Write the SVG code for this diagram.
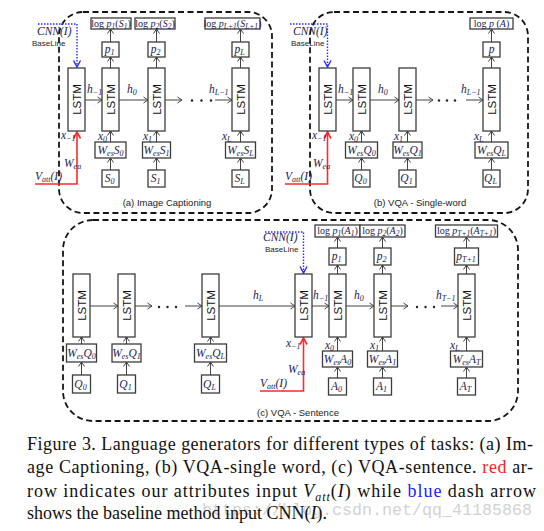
<svg xmlns="http://www.w3.org/2000/svg" width="544" height="531" viewBox="0 0 544 531">
<defs>
<style>
.bx{fill:#fff;stroke:#3c3c3c;stroke-width:1.3}
.fr{fill:none;stroke:#151515;stroke-width:1.8;stroke-dasharray:6 3.5}
.ls{font-family:"Liberation Sans",Arial,sans-serif;font-size:11.5px;fill:#111;text-anchor:middle;dominant-baseline:central}
.m{font-family:"Liberation Serif","Times New Roman",serif;font-style:italic;font-size:11.5px;fill:#1c1c50}
.c{text-anchor:middle}
.lg{font-size:10px}
.up{font-style:normal}
.sb{font-size:8px}
.lg .sb{font-size:7.5px}
.bl2{font-family:"Liberation Sans",Arial,sans-serif;font-size:8px;fill:#222}
.cap{font-family:"Liberation Sans",Arial,sans-serif;font-size:9.5px;fill:#222;text-anchor:middle}
.ar{fill:none;stroke:#444;stroke-width:1;marker-end:url(#ah)}
.blu{fill:none;stroke:#2a2aff;stroke-width:1.4;stroke-dasharray:1.5 1.5;marker-end:url(#ahb)}
.red{fill:none;stroke:#ff2a2a;stroke-width:1.6;marker-end:url(#ahr)}
.dot{fill:#222}
.txt{font-family:"Liberation Serif","Times New Roman",serif;font-size:18px;fill:#111}
.wm{font-family:"Liberation Mono","Courier New",monospace;font-size:16px;fill:#d2d2d2}
</style>
<marker id="ah" markerWidth="8" markerHeight="8" refX="6" refY="4" orient="auto" markerUnits="userSpaceOnUse"><path d="M1.5,1 L6,4 L1.5,7" fill="none" stroke="#444" stroke-width="1"/></marker>
<marker id="ahb" markerWidth="10" markerHeight="10" refX="8" refY="5" orient="auto" markerUnits="userSpaceOnUse"><path d="M1.5,1.5 L8,5 L1.5,8.5" fill="none" stroke="#2a2aff" stroke-width="1.4"/></marker>
<marker id="ahr" markerWidth="10" markerHeight="10" refX="8" refY="5" orient="auto" markerUnits="userSpaceOnUse"><path d="M1.5,1.5 L8,5 L1.5,8.5" fill="none" stroke="#ff2a2a" stroke-width="1.6"/></marker>
</defs>
<rect width="544" height="531" fill="#fff"/>

<!-- frames -->
<g id="frames">
<rect class="fr" x="59" y="12" width="213" height="201" rx="24"/>
<rect class="fr" x="310" y="12" width="218" height="201" rx="24"/>
<rect class="fr" x="63" y="220" width="455" height="201" rx="30"/>
</g>

<!-- connectors -->
<g id="connectors">
<!-- panel a -->
<line class="ar" x1="110.5" y1="170" x2="110.5" y2="158"/>
<line class="ar" x1="110.5" y1="142" x2="110.5" y2="131"/>
<line class="ar" x1="110.5" y1="68" x2="110.5" y2="57"/>
<line class="ar" x1="110.5" y1="42" x2="110.5" y2="29"/>
<line class="ar" x1="156.5" y1="170" x2="156.5" y2="158"/>
<line class="ar" x1="156.5" y1="142" x2="156.5" y2="131"/>
<line class="ar" x1="156.5" y1="68" x2="156.5" y2="57"/>
<line class="ar" x1="156.5" y1="42" x2="156.5" y2="29"/>
<line class="ar" x1="240.5" y1="170" x2="240.5" y2="158"/>
<line class="ar" x1="240.5" y1="142" x2="240.5" y2="131"/>
<line class="ar" x1="240.5" y1="68" x2="240.5" y2="57"/>
<line class="ar" x1="240.5" y1="42" x2="240.5" y2="29"/>
<line class="ar" x1="85" y1="100" x2="102" y2="100"/>
<line class="ar" x1="119" y1="100" x2="148" y2="100"/>
<line class="ar" x1="165" y1="100" x2="182" y2="100"/>
<line class="ar" x1="215" y1="100" x2="232" y2="100"/>
<circle class="dot" cx="192" cy="100.5" r="1.2"/>
<circle class="dot" cx="201.5" cy="100.5" r="1.2"/>
<circle class="dot" cx="211" cy="100.5" r="1.2"/>
<polyline class="blu" points="38,24 77,24 77,67"/>
<polyline class="red" points="35,184 77,184 77,132"/>
<!-- panel b -->
<line class="ar" x1="361.5" y1="170" x2="361.5" y2="158"/>
<line class="ar" x1="361.5" y1="142" x2="361.5" y2="131"/>
<line class="ar" x1="407.5" y1="170" x2="407.5" y2="158"/>
<line class="ar" x1="407.5" y1="142" x2="407.5" y2="131"/>
<line class="ar" x1="491.5" y1="170" x2="491.5" y2="158"/>
<line class="ar" x1="491.5" y1="142" x2="491.5" y2="131"/>
<line class="ar" x1="491.5" y1="68" x2="491.5" y2="57"/>
<line class="ar" x1="491.5" y1="42" x2="491.5" y2="29"/>
<line class="ar" x1="336" y1="100" x2="353" y2="100"/>
<line class="ar" x1="370" y1="100" x2="399" y2="100"/>
<line class="ar" x1="416" y1="100" x2="433" y2="100"/>
<line class="ar" x1="466" y1="100" x2="483" y2="100"/>
<circle class="dot" cx="439" cy="100.5" r="1.2"/>
<circle class="dot" cx="447" cy="100.5" r="1.2"/>
<circle class="dot" cx="455" cy="100.5" r="1.2"/>
<polyline class="blu" points="290,24 327.5,24 327.5,67"/>
<polyline class="red" points="285,184 327.5,184 327.5,132"/>
<!-- panel c -->
<line class="ar" x1="81.5" y1="375" x2="81.5" y2="362"/>
<line class="ar" x1="81.5" y1="344" x2="81.5" y2="337"/>
<line class="ar" x1="126.5" y1="375" x2="126.5" y2="362"/>
<line class="ar" x1="126.5" y1="344" x2="126.5" y2="337"/>
<line class="ar" x1="210.5" y1="375" x2="210.5" y2="362"/>
<line class="ar" x1="210.5" y1="344" x2="210.5" y2="337"/>
<line class="ar" x1="337.5" y1="378" x2="337.5" y2="367"/>
<line class="ar" x1="337.5" y1="351" x2="337.5" y2="337"/>
<line class="ar" x1="337.5" y1="274" x2="337.5" y2="265"/>
<line class="ar" x1="337.5" y1="248" x2="337.5" y2="237"/>
<line class="ar" x1="382.5" y1="378" x2="382.5" y2="367"/>
<line class="ar" x1="382.5" y1="351" x2="382.5" y2="337"/>
<line class="ar" x1="382.5" y1="274" x2="382.5" y2="265"/>
<line class="ar" x1="382.5" y1="248" x2="382.5" y2="237"/>
<line class="ar" x1="466.5" y1="378" x2="466.5" y2="367"/>
<line class="ar" x1="466.5" y1="351" x2="466.5" y2="337"/>
<line class="ar" x1="466.5" y1="274" x2="466.5" y2="265"/>
<line class="ar" x1="466.5" y1="248" x2="466.5" y2="237"/>
<line class="ar" x1="90" y1="306" x2="118" y2="306"/>
<line class="ar" x1="135" y1="306" x2="152" y2="306"/>
<line class="ar" x1="185" y1="306" x2="202" y2="306"/>
<line class="ar" x1="219" y1="306" x2="295" y2="306"/>
<line class="ar" x1="312" y1="306" x2="329" y2="306"/>
<line class="ar" x1="346" y1="306" x2="374" y2="306"/>
<line class="ar" x1="391" y1="306" x2="408" y2="306"/>
<line class="ar" x1="441" y1="306" x2="458" y2="306"/>
<circle class="dot" cx="159" cy="307" r="1.2"/>
<circle class="dot" cx="167.5" cy="307" r="1.2"/>
<circle class="dot" cx="176" cy="307" r="1.2"/>
<circle class="dot" cx="417" cy="307" r="1.2"/>
<circle class="dot" cx="425.5" cy="307" r="1.2"/>
<circle class="dot" cx="434" cy="307" r="1.2"/>
<polyline class="blu" points="265,232 303.5,232 303.5,273"/>
<polyline class="red" points="260,391 303.5,391 303.5,338"/>
</g>

<!-- ===== panel a nodes ===== -->
<g id="a_lstm0"><rect class="bx" x="68" y="68" width="17" height="63"/><text class="ls" transform="translate(76.5,99.5) rotate(-90)">LSTM</text></g>
<g id="a_lstm1"><rect class="bx" x="102" y="68" width="17" height="63"/><text class="ls" transform="translate(110.5,99.5) rotate(-90)">LSTM</text></g>
<g id="a_lstm2"><rect class="bx" x="148" y="68" width="17" height="63"/><text class="ls" transform="translate(156.5,99.5) rotate(-90)">LSTM</text></g>
<g id="a_lstmL"><rect class="bx" x="232" y="68" width="17" height="63"/><text class="ls" transform="translate(240.5,99.5) rotate(-90)">LSTM</text></g>
<g id="a_p1"><rect class="bx" x="102" y="42" width="17" height="15"/><text class="m c" x="109.5" y="53">p<tspan class="sb" dy="2">1</tspan></text></g>
<g id="a_p2"><rect class="bx" x="148" y="42" width="17" height="15"/><text class="m c" x="155.5" y="53">p<tspan class="sb" dy="2">2</tspan></text></g>
<g id="a_pL"><rect class="bx" x="232" y="42" width="17" height="15"/><text class="m c" x="239.5" y="53">p<tspan class="sb" dy="2">L</tspan></text></g>
<g id="a_o1"><rect class="bx" x="91" y="18" width="40" height="11"/><text class="m c lg" x="111" y="26.5"><tspan class="up">log </tspan>p<tspan class="sb" dy="2">1</tspan><tspan class="up" dy="-2">(</tspan>S<tspan class="sb" dy="2">1</tspan><tspan class="up" dy="-2">)</tspan></text></g>
<g id="a_o2"><rect class="bx" x="135" y="18" width="40" height="11"/><text class="m c lg" x="155" y="26.5"><tspan class="up">log </tspan>p<tspan class="sb" dy="2">2</tspan><tspan class="up" dy="-2">(</tspan>S<tspan class="sb" dy="2">2</tspan><tspan class="up" dy="-2">)</tspan></text></g>
<g id="a_oL"><rect class="bx" x="205" y="18" width="55" height="11"/><text class="m c lg" x="232.5" y="26.5"><tspan class="up">log </tspan>p<tspan class="sb" dy="2">L+1</tspan><tspan class="up" dy="-2">(</tspan>S<tspan class="sb" dy="2">L+1</tspan><tspan class="up" dy="-2">)</tspan></text></g>
<g id="a_w0"><rect class="bx" x="95" y="142" width="31" height="16"/><text class="m c" x="110.5" y="153.5">W<tspan class="sb" dy="2">es</tspan><tspan dy="-2">S</tspan><tspan class="sb" dy="2">0</tspan></text></g>
<g id="a_w1"><rect class="bx" x="142.5" y="142" width="28" height="16"/><text class="m c" x="156.5" y="153.5">W<tspan class="sb" dy="2">es</tspan><tspan dy="-2">S</tspan><tspan class="sb" dy="2">1</tspan></text></g>
<g id="a_wL"><rect class="bx" x="225.5" y="142" width="30" height="16"/><text class="m c" x="240.5" y="153.5">W<tspan class="sb" dy="2">es</tspan><tspan dy="-2">S</tspan><tspan class="sb" dy="2">L</tspan></text></g>
<g id="a_s0"><rect class="bx" x="102" y="170" width="17" height="17"/><text class="m c" x="109.5" y="182">S<tspan class="sb" dy="2">0</tspan></text></g>
<g id="a_s1"><rect class="bx" x="148" y="170" width="17" height="17"/><text class="m c" x="155.5" y="182">S<tspan class="sb" dy="2">1</tspan></text></g>
<g id="a_sL"><rect class="bx" x="232" y="170" width="17" height="17"/><text class="m c" x="239.5" y="182">S<tspan class="sb" dy="2">L</tspan></text></g>
<g id="a_labels">
<text class="m" x="37" y="35" font-size="10.5">CNN(I)</text>
<text class="bl2" x="32" y="46">BaseLine</text>
<text class="m" x="35" y="180">V<tspan class="sb" dy="2">att</tspan><tspan dy="-2">(I)</tspan></text>
<text class="m" x="64" y="167">W<tspan class="sb" dy="2">ea</tspan></text>
<text class="m" x="61" y="139">x<tspan class="sb" dy="2">−1</tspan></text>
<text class="m" x="98" y="140">x<tspan class="sb" dy="2">0</tspan></text>
<text class="m" x="143" y="140">x<tspan class="sb" dy="2">1</tspan></text>
<text class="m" x="222" y="140">x<tspan class="sb" dy="2">L</tspan></text>
<text class="m" x="87" y="93">h<tspan class="sb" dy="2">−1</tspan></text>
<text class="m" x="127" y="93">h<tspan class="sb" dy="2">0</tspan></text>
<text class="m" x="209" y="93">h<tspan class="sb" dy="2">L−1</tspan></text>
<text class="cap" x="167" y="206">(a) Image  Captioning</text>
</g>

<!-- ===== panel b nodes ===== -->
<g id="b_lstm0"><rect class="bx" x="319" y="68" width="17" height="63"/><text class="ls" transform="translate(327.5,99.5) rotate(-90)">LSTM</text></g>
<g id="b_lstm1"><rect class="bx" x="353" y="68" width="17" height="63"/><text class="ls" transform="translate(361.5,99.5) rotate(-90)">LSTM</text></g>
<g id="b_lstm2"><rect class="bx" x="399" y="68" width="17" height="63"/><text class="ls" transform="translate(407.5,99.5) rotate(-90)">LSTM</text></g>
<g id="b_lstmL"><rect class="bx" x="483" y="68" width="17" height="63"/><text class="ls" transform="translate(491.5,99.5) rotate(-90)">LSTM</text></g>
<g id="b_p"><rect class="bx" x="483" y="42" width="17" height="15"/><text class="m c" x="491.5" y="53">p</text></g>
<g id="b_o"><rect class="bx" x="470" y="18" width="43" height="11"/><text class="m c lg" x="491.5" y="26.5"><tspan class="up">log </tspan>p <tspan class="up">(</tspan>A<tspan class="up">)</tspan></text></g>
<g id="b_w0"><rect class="bx" x="345.5" y="142" width="32" height="16"/><text class="m c" x="361.5" y="153.5">W<tspan class="sb" dy="2">es</tspan><tspan dy="-2">Q</tspan><tspan class="sb" dy="2">0</tspan></text></g>
<g id="b_w1"><rect class="bx" x="393" y="142" width="29" height="16"/><text class="m c" x="407.5" y="153.5">W<tspan class="sb" dy="2">es</tspan><tspan dy="-2">Q</tspan><tspan class="sb" dy="2">1</tspan></text></g>
<g id="b_wL"><rect class="bx" x="475" y="142" width="33" height="16"/><text class="m c" x="491.5" y="153.5">W<tspan class="sb" dy="2">es</tspan><tspan dy="-2">Q</tspan><tspan class="sb" dy="2">L</tspan></text></g>
<g id="b_q0"><rect class="bx" x="353" y="170" width="17" height="17"/><text class="m c" x="360.5" y="182">Q<tspan class="sb" dy="2">0</tspan></text></g>
<g id="b_q1"><rect class="bx" x="399" y="170" width="17" height="17"/><text class="m c" x="406.5" y="182">Q<tspan class="sb" dy="2">1</tspan></text></g>
<g id="b_qL"><rect class="bx" x="483" y="170" width="17" height="17"/><text class="m c" x="490.5" y="182">Q<tspan class="sb" dy="2">L</tspan></text></g>
<g id="b_labels">
<text class="m" x="293" y="35" font-size="10.5">CNN(I)</text>
<text class="bl2" x="291" y="46">BaseLine</text>
<text class="m" x="285" y="180">V<tspan class="sb" dy="2">att</tspan><tspan dy="-2">(I)</tspan></text>
<text class="m" x="313" y="167">W<tspan class="sb" dy="2">ea</tspan></text>
<text class="m" x="312" y="139">x<tspan class="sb" dy="2">−1</tspan></text>
<text class="m" x="349" y="140">x<tspan class="sb" dy="2">0</tspan></text>
<text class="m" x="394" y="140">x<tspan class="sb" dy="2">1</tspan></text>
<text class="m" x="474" y="140">x<tspan class="sb" dy="2">L</tspan></text>
<text class="m" x="338" y="93">h<tspan class="sb" dy="2">−1</tspan></text>
<text class="m" x="378" y="93">h<tspan class="sb" dy="2">0</tspan></text>
<text class="m" x="461" y="93">h<tspan class="sb" dy="2">L−1</tspan></text>
<text class="cap" x="420" y="206">(b) VQA - Single-word</text>
</g>

<!-- ===== panel c nodes ===== -->
<g id="c_lstmQ0"><rect class="bx" x="73" y="274" width="17" height="63"/><text class="ls" transform="translate(81.5,305.5) rotate(-90)">LSTM</text></g>
<g id="c_lstmQ1"><rect class="bx" x="118" y="274" width="17" height="63"/><text class="ls" transform="translate(126.5,305.5) rotate(-90)">LSTM</text></g>
<g id="c_lstmQL"><rect class="bx" x="202" y="274" width="17" height="63"/><text class="ls" transform="translate(210.5,305.5) rotate(-90)">LSTM</text></g>
<g id="c_lstm0"><rect class="bx" x="295" y="274" width="17" height="63"/><text class="ls" transform="translate(303.5,305.5) rotate(-90)">LSTM</text></g>
<g id="c_lstmA0"><rect class="bx" x="329" y="274" width="17" height="63"/><text class="ls" transform="translate(337.5,305.5) rotate(-90)">LSTM</text></g>
<g id="c_lstmA1"><rect class="bx" x="374" y="274" width="17" height="63"/><text class="ls" transform="translate(382.5,305.5) rotate(-90)">LSTM</text></g>
<g id="c_lstmAT"><rect class="bx" x="458" y="274" width="17" height="63"/><text class="ls" transform="translate(466.5,305.5) rotate(-90)">LSTM</text></g>
<g id="c_wq0"><rect class="bx" x="66.5" y="344" width="30" height="18"/><text class="m c" x="81.5" y="356.5">W<tspan class="sb" dy="2">es</tspan><tspan dy="-2">Q</tspan><tspan class="sb" dy="2">0</tspan></text></g>
<g id="c_wq1"><rect class="bx" x="112" y="344" width="29" height="18"/><text class="m c" x="126.5" y="356.5">W<tspan class="sb" dy="2">es</tspan><tspan dy="-2">Q</tspan><tspan class="sb" dy="2">1</tspan></text></g>
<g id="c_wqL"><rect class="bx" x="194.5" y="344" width="32" height="18"/><text class="m c" x="210.5" y="356.5">W<tspan class="sb" dy="2">es</tspan><tspan dy="-2">Q</tspan><tspan class="sb" dy="2">L</tspan></text></g>
<g id="c_q0"><rect class="bx" x="72.5" y="375" width="18" height="18"/><text class="m c" x="80.5" y="387.5">Q<tspan class="sb" dy="2">0</tspan></text></g>
<g id="c_q1"><rect class="bx" x="117.5" y="375" width="18" height="18"/><text class="m c" x="125.5" y="387.5">Q<tspan class="sb" dy="2">1</tspan></text></g>
<g id="c_qL"><rect class="bx" x="201.5" y="375" width="18" height="18"/><text class="m c" x="209.5" y="387.5">Q<tspan class="sb" dy="2">L</tspan></text></g>
<g id="c_p1"><rect class="bx" x="329" y="248" width="17" height="17"/><text class="m c" x="336.5" y="260">p<tspan class="sb" dy="2">1</tspan></text></g>
<g id="c_p2"><rect class="bx" x="374" y="248" width="17" height="17"/><text class="m c" x="381.5" y="260">p<tspan class="sb" dy="2">2</tspan></text></g>
<g id="c_pT"><rect class="bx" x="454.5" y="248" width="24" height="17"/><text class="m c" x="466" y="260">p<tspan class="sb" dy="2">T+1</tspan></text></g>
<g id="c_o1"><rect class="bx" x="315" y="225" width="45" height="12"/><text class="m c lg" x="337.5" y="234"><tspan class="up">log </tspan>p<tspan class="sb" dy="2">1</tspan><tspan class="up" dy="-2">(</tspan>A<tspan class="sb" dy="2">1</tspan><tspan class="up" dy="-2">)</tspan></text></g>
<g id="c_o2"><rect class="bx" x="360" y="225" width="45" height="12"/><text class="m c lg" x="382.5" y="234"><tspan class="up">log </tspan>p<tspan class="sb" dy="2">2</tspan><tspan class="up" dy="-2">(</tspan>A<tspan class="sb" dy="2">2</tspan><tspan class="up" dy="-2">)</tspan></text></g>
<g id="c_oT"><rect class="bx" x="435.5" y="225" width="62" height="12"/><text class="m c lg" x="466.5" y="234"><tspan class="up">log </tspan>p<tspan class="sb" dy="2">T+1</tspan><tspan class="up" dy="-2">(</tspan>A<tspan class="sb" dy="2">T+1</tspan><tspan class="up" dy="-2">)</tspan></text></g>
<g id="c_wa0"><rect class="bx" x="322.5" y="351" width="30" height="16"/><text class="m c" x="337.5" y="362.5">W<tspan class="sb" dy="2">es</tspan><tspan dy="-2">A</tspan><tspan class="sb" dy="2">0</tspan></text></g>
<g id="c_wa1"><rect class="bx" x="367.5" y="351" width="30" height="16"/><text class="m c" x="382.5" y="362.5">W<tspan class="sb" dy="2">es</tspan><tspan dy="-2">A</tspan><tspan class="sb" dy="2">1</tspan></text></g>
<g id="c_waT"><rect class="bx" x="450.5" y="351" width="32" height="16"/><text class="m c" x="466.5" y="362.5">W<tspan class="sb" dy="2">es</tspan><tspan dy="-2">A</tspan><tspan class="sb" dy="2">T</tspan></text></g>
<g id="c_a0"><rect class="bx" x="328.5" y="378" width="18" height="17"/><text class="m c" x="336.5" y="390">A<tspan class="sb" dy="2">0</tspan></text></g>
<g id="c_a1"><rect class="bx" x="373.5" y="378" width="18" height="17"/><text class="m c" x="381.5" y="390">A<tspan class="sb" dy="2">1</tspan></text></g>
<g id="c_aT"><rect class="bx" x="457.5" y="378" width="18" height="17"/><text class="m c" x="465.5" y="390">A<tspan class="sb" dy="2">T</tspan></text></g>
<g id="c_labels">
<text class="m" x="263" y="241" font-size="10.5">CNN(I)</text>
<text class="bl2" x="265" y="252">BaseLine</text>
<text class="m" x="260" y="387">V<tspan class="sb" dy="2">att</tspan><tspan dy="-2">(I)</tspan></text>
<text class="m" x="288" y="373">W<tspan class="sb" dy="2">ea</tspan></text>
<text class="m" x="286" y="347">x<tspan class="sb" dy="2">−1</tspan></text>
<text class="m" x="325" y="349">x<tspan class="sb" dy="2">0</tspan></text>
<text class="m" x="370" y="349">x<tspan class="sb" dy="2">1</tspan></text>
<text class="m" x="450" y="349">x<tspan class="sb" dy="2">L</tspan></text>
<text class="m" x="253" y="299">h<tspan class="sb" dy="2">L</tspan></text>
<text class="m" x="313" y="299">h<tspan class="sb" dy="2">−1</tspan></text>
<text class="m" x="354" y="299">h<tspan class="sb" dy="2">0</tspan></text>
<text class="m" x="436" y="299">h<tspan class="sb" dy="2">T−1</tspan></text>
<text class="cap" x="298" y="416">(c) VQA - Sentence</text>
</g>

<!-- caption -->
<g id="caption">
<text class="wm" x="202" y="515" textLength="330" lengthAdjust="spacingAndGlyphs">https://blog.csdn.net/qq_41185868</text>
<text class="txt" x="27" y="450" textLength="506" lengthAdjust="spacing">Figure 3. Language generators for different types of tasks: (a) Im-</text>
<text class="txt" x="27" y="473" textLength="506" lengthAdjust="spacing">age Captioning, (b) VQA-single word, (c) VQA-sentence. <tspan fill="#ff2020">red</tspan> ar-</text>
<text class="txt" x="27" y="497" textLength="509" lengthAdjust="spacing">row indicates our attributes input <tspan font-style="italic">V</tspan><tspan font-style="italic" font-size="12" dy="4">att</tspan><tspan dy="-4">(</tspan><tspan font-style="italic">I</tspan>) while <tspan fill="#2020ff">blue</tspan> dash arrow</text>
<text class="txt" x="27" y="519">shows the baseline method input CNN(<tspan font-style="italic">I</tspan>).</text>
</g>
</svg>
